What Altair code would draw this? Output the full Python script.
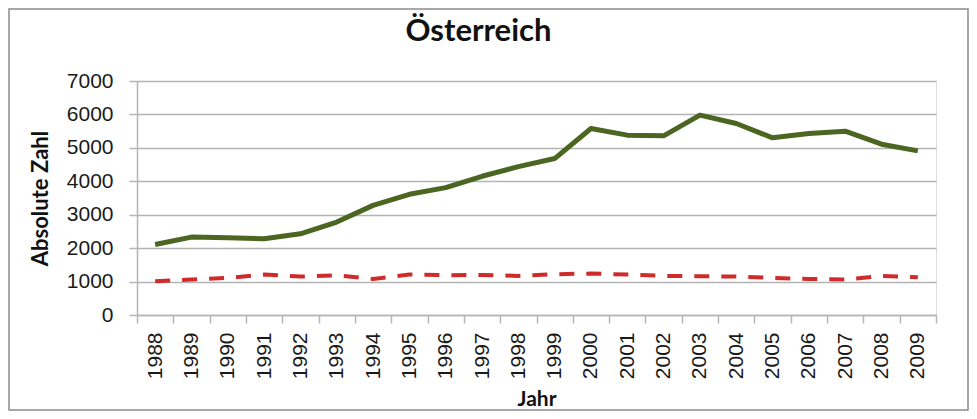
import altair as alt
import pandas as pd

years = [str(y) for y in range(1988, 2010)]
green_values = [2110, 2330, 2310, 2280, 2430, 2780, 3280, 3610, 3810, 4150, 4440,
                4680, 5580, 5380, 5360, 5980, 5730, 5300, 5430, 5500, 5110, 4910]
red_values = [1010, 1060, 1110, 1210, 1150, 1190, 1080, 1210, 1190, 1200, 1170,
              1220, 1240, 1210, 1170, 1160, 1150, 1110, 1080, 1060, 1170, 1130]
series_names = ["Serie 1", "Serie 2"]
y_ticks = [0, 1000, 2000, 3000, 4000, 5000, 6000, 7000]

rows = []
for name, vals in zip(series_names, [green_values, red_values]):
    for yr, v in zip(years, vals):
        rows.append({"Jahr": yr, "Wert": v, "Serie": name})
df = pd.DataFrame(rows)

W, H = 799, 234
PL, PT, PR, PB = 129, 73, 33, 96

grid_col = "#b4b4b4"

x_enc = alt.X(
    "Jahr:O",
    bandPosition=0.5,
    scale=alt.Scale(type="band", paddingInner=0, paddingOuter=0),
    axis=alt.Axis(
        title="Jahr", labelAngle=-90, tickBand="extent", grid=False,
        labelFont="Liberation Sans", labelFontSize=21, labelColor="#1a1a1a",
        labelPadding=9, tickSize=8, tickColor=grid_col, tickWidth=1.5,
        domainColor=grid_col, domainWidth=1.5,
        titleFont="Lato", titleFontSize=21, titleFontWeight="bold",
        titleColor="#111111", titlePadding=10,
    ),
)
y_enc = alt.Y(
    "Wert:Q",
    scale=alt.Scale(domain=[0, 7000], nice=False),
    axis=alt.Axis(
        title="Absolute Zahl", values=y_ticks, format="d", grid=True,
        gridColor=grid_col, gridWidth=1.5, labelFont="Liberation Sans",
        labelFontSize=21, labelColor="#1a1a1a", labelPadding=16, tickSize=8,
        tickColor=grid_col, tickWidth=1.5, domainColor=grid_col, domainWidth=1.5,
        titleFont="Lato", titleFontSize=22, titleFontWeight="bold",
        titleColor="#111111", titlePadding=14,
    ),
)

green_line = alt.Chart(df).transform_filter(
    alt.datum.Serie == series_names[0]
).mark_line(color="#4b6620", strokeWidth=5, strokeJoin="round").encode(
    x=x_enc, y=y_enc
)
red_line = alt.Chart(df).transform_filter(
    alt.datum.Serie == series_names[1]
).mark_line(color="#cf2b2b", strokeWidth=4, strokeDash=[15, 12]).encode(
    x=x_enc, y=y_enc
)

border = alt.Chart(pd.DataFrame({"a": [0]})).mark_rect(
    filled=False, stroke="#8a8a8a", strokeWidth=1.5
).encode(
    x=alt.value(-PL + 1),
    x2=alt.value(W + PR - 1),
    y=alt.value(-PT + 1),
    y2=alt.value(H + PB - 1),
)

chart = alt.layer(green_line, red_line, border).properties(
    width=W,
    height=H,
    padding={"left": PL, "top": PT, "right": PR, "bottom": PB},
    autosize=alt.AutoSizeParams(type="none"),
    title=alt.TitleParams(
        "Österreich", font="Lato", fontSize=31, fontWeight="bold",
        color="#111111", anchor="middle", frame="group", dx=-58, offset=-40,
    ),
).configure_view(stroke=None).configure(background="white")

chart.save("out.html", embed_options={"renderer": "svg", "actions": False})
